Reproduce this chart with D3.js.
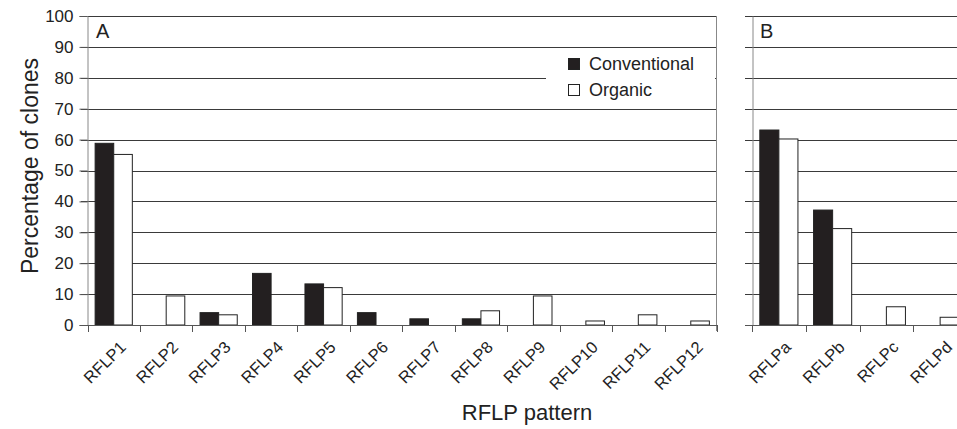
<!DOCTYPE html>
<html><head><meta charset="utf-8">
<script src="https://cdn.jsdelivr.net/npm/d3@7"></script>
<style>body{margin:0;background:#fff}svg{display:block;font-family:"Liberation Sans",Arial,sans-serif}</style>
</head><body>
<svg id="c" width="957" height="429"></svg>
<script>
const series = ["Conventional", "Organic"];
const catsA = ["RFLP1","RFLP2","RFLP3","RFLP4","RFLP5","RFLP6","RFLP7","RFLP8","RFLP9","RFLP10","RFLP11","RFLP12"];
const convA = [58.8, 0, 4.0, 16.7, 13.3, 4.0, 2.0, 2.0, 0, 0, 0, 0];
const orgA  = [55.2, 9.4, 3.3, 0, 12.1, 0, 0, 4.6, 9.4, 1.3, 3.3, 1.3];
const catsB = ["RFLPa","RFLPb","RFLPc","RFLPd"];
const convB = [63.1, 37.2, 0, 0];
const orgB  = [60.2, 31.2, 5.9, 2.5];
const yTicks = [0,10,20,30,40,50,60,70,80,90,100];
const colors = ["#231f20", "#ffffff"];

const svg = d3.select("#c");
const y = d3.scaleLinear().domain([0,100]).range([325,16]);
const xA = d3.scaleBand().domain(catsA).range([87.5,717]).padding(0);
const xB = d3.scaleBand().domain(catsB).range([752,967]).padding(0);
const subA = d3.scaleBand().domain(series).range([0,xA.bandwidth()]).paddingInner(0).paddingOuter(0.41);
const subB = d3.scaleBand().domain(series).range([0,xB.bandwidth()]).paddingInner(0).paddingOuter(0.41);
const gridColor = "#3a3a3a";

function grid(x0, x1){
  svg.append("g").selectAll("line").data(yTicks.filter(d=>d>0)).join("line")
    .attr("x1", x0-7).attr("x2", x1).attr("y1", d=>Math.round(y(d))+0.5).attr("y2", d=>Math.round(y(d))+0.5)
    .attr("stroke", gridColor).attr("stroke-width", 1);
}
grid(88, 716);
grid(752, 957);

// legend cover box
svg.append("rect").attr("x",546).attr("y",53).attr("width",169).attr("height",50).attr("fill","#fff");

// y axis A
const yAx = svg.append("g").attr("transform","translate(87.5,0)")
  .call(d3.axisLeft(y).tickValues(yTicks).tickSize(8).tickPadding(6));
yAx.select(".domain").attr("stroke","#888");
yAx.selectAll(".tick line").attr("stroke","#555");
yAx.selectAll("text").attr("font-size",17).attr("fill","#222").attr("font-family","Liberation Sans, Arial, sans-serif");

// y axis B (no labels)
const yBx = svg.append("g").attr("transform","translate(752.5,0)")
  .call(d3.axisLeft(y).tickValues(yTicks).tickSize(0).tickFormat(""));
yBx.select(".domain").attr("stroke","#888");

// right border of A
svg.append("line").attr("x1",716.5).attr("x2",716.5).attr("y1",y(100)).attr("y2",331).attr("stroke","#888");

function bars(x, sub, cats, conv, org){
  const data = [];
  cats.forEach((c,i)=>{ data.push({c, s:series[0], v:conv[i]}); data.push({c, s:series[1], v:org[i]}); });
  svg.append("g").selectAll("rect").data(data.filter(d=>d.v>0)).join("rect")
    .attr("x", d=>x(d.c)+sub(d.s)).attr("width", sub.bandwidth())
    .attr("y", d=>y(d.v)).attr("height", d=>y(0)-y(d.v))
    .attr("fill", d=>colors[series.indexOf(d.s)])
    .attr("stroke", "#222").attr("stroke-width",1);
}
bars(xA, subA, catsA, convA, orgA);
bars(xB, subB, catsB, convB, orgB);

function xAxis(x, cats, x0, x1){
  const g = svg.append("g");
  g.append("line").attr("x1",x0).attr("x2",x1).attr("y1",325.5).attr("y2",325.5).attr("stroke","#555");
  const bounds = cats.map(c=>x(c)).concat([x(cats[cats.length-1])+x.bandwidth()]);
  g.selectAll("line.t").data(bounds).join("line")
    .attr("x1",d=>Math.round(d)+0.5).attr("x2",d=>Math.round(d)+0.5).attr("y1",325).attr("y2",332).attr("stroke","#555");
  g.selectAll("text").data(cats).join("text")
    .attr("transform", d=>`translate(${x(d)+x.bandwidth()/2+5},340) rotate(-45)`)
    .attr("text-anchor","end").attr("dy","0.7em")
    .attr("font-size",16.5).attr("fill","#222").text(d=>d);
}
xAxis(xA, catsA, 80, 717);
xAxis(xB, catsB, 745, 957);

// Panel letters
svg.append("text").attr("x",96).attr("y",38).attr("font-size",20).attr("fill","#222").text("A");
svg.append("text").attr("x",760).attr("y",38).attr("font-size",20).attr("fill","#222").text("B");

// legend
const leg = svg.append("g");
series.forEach((s,i)=>{
  leg.append("rect").attr("x",568.5).attr("y",58.5+i*26).attr("width",11).attr("height",11)
    .attr("fill",colors[i]).attr("stroke","#222");
  leg.append("text").attr("x",589).attr("y",64+i*26).attr("dy","0.35em").attr("font-size",18).attr("fill","#222").text(s);
});

// axis titles
svg.append("text").attr("transform","translate(38,166) rotate(-90)").attr("text-anchor","middle")
  .attr("font-size",23).attr("fill","#222").text("Percentage of clones");
svg.append("text").attr("x",527).attr("y",420).attr("text-anchor","middle")
  .attr("font-size",22).attr("fill","#222").text("RFLP pattern");
</script>
</body></html>
